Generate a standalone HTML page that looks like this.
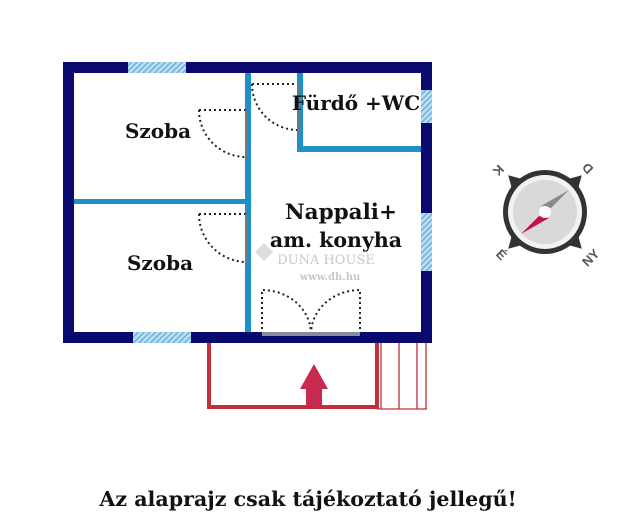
<!DOCTYPE html>
<html><head><style>
body{margin:0;background:#fff;width:640px;height:526px;overflow:hidden}
svg text{font-family:"DejaVu Serif","Liberation Serif",serif;font-weight:bold;fill:#111}
</style></head><body>
<svg width="640" height="526" viewBox="0 0 640 526" xmlns="http://www.w3.org/2000/svg">
<defs>
<pattern id="h" width="4" height="4" patternUnits="userSpaceOnUse" patternTransform="rotate(45)">
<rect width="4" height="4" fill="#bfe0f2"/><rect width="1.6" height="4" fill="#6fb3dc"/></pattern>
</defs>
<rect x="68.5" y="67.5" width="358" height="270" fill="none" stroke="#0a0a6e" stroke-width="11"/>
<rect x="128" y="62" width="58" height="11" fill="url(#h)"/>
<rect x="133" y="332" width="58" height="11" fill="url(#h)"/>
<rect x="421" y="90" width="11" height="33" fill="url(#h)"/>
<rect x="421" y="213" width="11" height="58" fill="url(#h)"/>
<g fill="#1e8fc8">
<rect x="245" y="73" width="6" height="259"/>
<rect x="74" y="199" width="171" height="5"/>
<rect x="297" y="73" width="6" height="79"/>
<rect x="297" y="146" width="124" height="6"/>
</g>
<g fill="none" stroke="#222" stroke-width="2" stroke-dasharray="2,3">
<path d="M199 110 H246 M199 110 A47 47 0 0 0 246 157"/>
<path d="M199 214 H246 M199 214 A48 48 0 0 0 246 262"/>
<path d="M252 84 H298 M252 84 A46 46 0 0 0 298 130"/>
<path d="M262 334 V290 A49 44 0 0 1 311 334 M360 334 V290 A49 44 0 0 0 311 334"/>
</g>
<g fill="#777">
<rect x="245" y="110" width="3" height="48"/>
<rect x="245" y="214" width="3" height="49"/>
<rect x="297" y="83" width="3" height="50"/>
<rect x="262" y="332" width="98" height="4" fill="#8a8a9e"/>
</g>
<path d="M209 343 V407 H377 V343" fill="none" stroke="#c0303a" stroke-width="4"/>
<g stroke="#c0303a" stroke-width="1.3" fill="none">
<path d="M381 343 V409 M399 343 V409 M417 343 V409 M426 343 V409 M377 409 H427"/>
</g>
<path d="M314 364 L328 389 L322 389 L322 408 L306 408 L306 389 L300 389 Z" fill="#c8294e"/>
<text x="158" y="138" font-size="20" text-anchor="middle">Szoba</text>
<text x="160" y="270" font-size="20" text-anchor="middle">Szoba</text>
<text x="356" y="110" font-size="20" text-anchor="middle">Fürdő +WC</text>
<text x="341" y="219" font-size="21.5" text-anchor="middle">Nappali+</text>
<text x="336" y="247" font-size="20.5" text-anchor="middle">am. konyha</text>
<text x="326" y="264" font-size="13" text-anchor="middle" style="font-weight:normal;fill:#c8c8c8">DUNA HOUSE</text>
<text x="330" y="280" font-size="10" text-anchor="middle" style="fill:#c8c8c8">www.dh.hu</text>
<path d="M255 252 l9 -9 l9 9 l-9 9 z" fill="#ddd"/>
<text x="308" y="506" font-size="20.6" text-anchor="middle">Az alaprajz csak tájékoztató jellegű!</text>
<g transform="translate(545,212)">
<g fill="#333" transform="rotate(45)">
<path d="M-8 -38 L0 -52 L8 -38 Z"/><path d="M-8 38 L0 52 L8 38 Z"/>
<path d="M-38 -8 L-52 0 L-38 8 Z"/><path d="M38 -8 L52 0 L38 8 Z"/>
</g>
<circle r="42" fill="#333"/>
<circle r="37" fill="#f2f2f2"/>
<circle r="32" fill="#d9d9d9"/>
<path d="M24 -22 L6 -4 L-4 -6 Z" fill="#8a8a8a"/>
<path d="M-24 22 L-6 4 L4 6 Z" fill="#c8104e"/>
<circle r="6" fill="#fff"/>
<text x="-47" y="-38" font-size="13" text-anchor="middle" transform="rotate(135 -47 -42)" style="fill:#555;font-family:'Liberation Sans',sans-serif">K</text>
<text x="43" y="-40" font-size="13" text-anchor="middle" transform="rotate(-135 43 -44)" style="fill:#555;font-family:'Liberation Sans',sans-serif">D</text>
<text x="-44" y="47" font-size="13" text-anchor="middle" transform="rotate(45 -44 43)" style="fill:#555;font-family:'Liberation Sans',sans-serif">É</text>
<text x="46" y="50" font-size="13" text-anchor="middle" transform="rotate(-45 46 46)" style="fill:#555;font-family:'Liberation Sans',sans-serif">NY</text>
</g>
</svg>
</body></html>
